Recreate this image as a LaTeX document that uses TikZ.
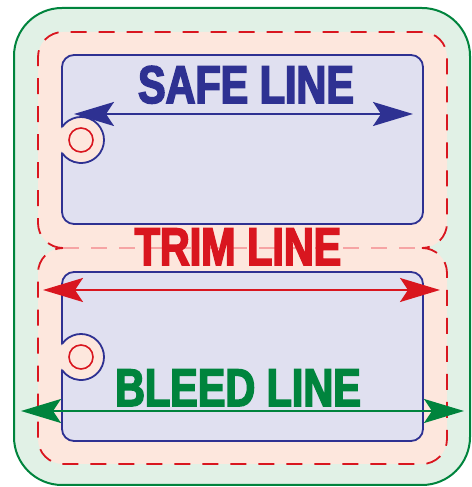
\documentclass[tikz,border=0pt]{standalone}
\usepackage{fontspec}
\setmainfont{Liberation Sans}
\newfontfamily\tagfont{Liberation Sans}[BoldFeatures={FakeStretch=0.78,FakeBold=3}]
\usetikzlibrary{arrows.meta}

\definecolor{bleedgreen}{HTML}{00843D}
\definecolor{bleedfill}{HTML}{E1F1E6}
\definecolor{trimred}{HTML}{D9161F}
\definecolor{trimfill}{HTML}{FDE7DD}
\definecolor{trimpale}{HTML}{F6A4A4}
\definecolor{safeblue}{HTML}{2E3192}
\definecolor{safefill}{HTML}{E0E0F0}

\tikzset{
    trimline/.style={draw=trimred, line width=1.8pt, dash pattern=on 16pt off 12pt},
    safebox/.style={fill=safefill, draw=safeblue, line width=1.8pt, rounded corners=12pt},
    tagtext/.style={anchor=base, inner sep=0pt, font=\tagfont\bfseries\fontsize{53}{53}\selectfont},
    dimarrow/.style={line width=2.2pt, {Stealth[length=40pt,width=24pt,inset=8pt]}-{Stealth[length=40pt,width=24pt,inset=8pt]}}
}

\begin{document}
\begin{tikzpicture}[x=1pt, y=1pt]
    \useasboundingbox (0,0) rectangle (471,487);

    % bleed area
    \filldraw [fill=bleedfill, draw=bleedgreen, line width=2pt, rounded corners=48pt] (14,2) rectangle (470,479);

    % trim area, two tags
    \fill [trimfill, rounded corners=25pt] (38,239) rectangle (447,455);
    \fill [trimfill, rounded corners=25pt] (38,23) rectangle (447,239);
    \draw [trimline] (63,239) arc (270:180:25) -- (38,430) arc (180:90:25) -- (422,455) arc (90:0:25) -- (447,264) arc (0:-90:25);
    \draw [trimline] (422,239) arc (90:0:25) -- (447,48) arc (0:-90:25) -- (63,23) arc (270:180:25) -- (38,214) arc (180:90:25);
    \draw [trimline, draw=trimpale] (63,239) -- (422,239);

    % safe area with hole notch
    \foreach \y in {263, 46} {
        \path [safebox] (62,\y) rectangle (423,\y+169);
    }
    \foreach \c in {347, 130} {
        \fill [trimfill] (81,\c) circle (23);
        \draw [safeblue, line width=1.8pt] (81,\c) ++(145.7:23) arc (145.7:-145.7:23);
        \draw [trimred, line width=1.6pt] (81,\c) circle (12);
    }

    % arrow ends
    \coordinate (safeL) at (74,373);
    \coordinate (safeR) at (413,373);
    \coordinate (trimL) at (43,197);
    \coordinate (trimR) at (440,197);
    \coordinate (bleedL) at (21,76);
    \coordinate (bleedR) at (464,76);

    \draw [dimarrow, safeblue] (safeL) -- (safeR);
    \draw [dimarrow, trimred] (trimL) -- (trimR);
    \draw [dimarrow, bleedgreen] (bleedL) -- (bleedR);

    \node [tagtext, text=safeblue] (safe) at (246,384) {SAFE LINE};
    \node [tagtext, text=trimred] (trim) at (238,222) {TRIM LINE};
    \node [tagtext, text=bleedgreen] (bleed) at (238,81) {BLEED LINE};
\end{tikzpicture}
\end{document}
